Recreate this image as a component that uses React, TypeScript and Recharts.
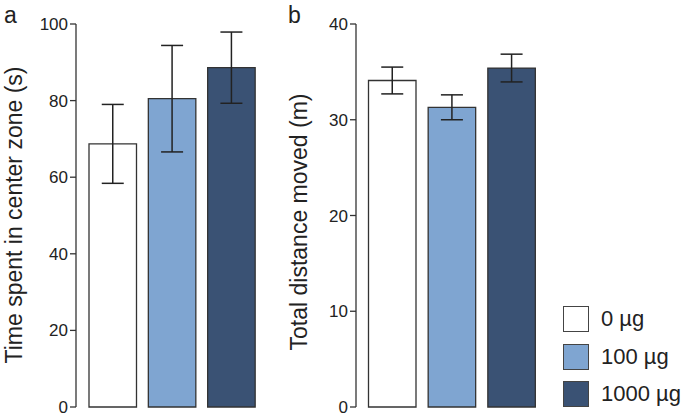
import { BarChart, Bar, Cell, XAxis, YAxis, ErrorBar } from 'recharts'

const groups = ['0 µg', '100 µg', '1000 µg']
const groupColors = ['#ffffff', '#7fa5d1', '#3a5274']

// panel a: time spent in center zone (s)
const timeMean = [68.7, 80.5, 88.6]
const timeErr = [10.3, 13.9, 9.3]
const timeTicks = [0, 20, 40, 60, 80, 100]

// panel b: total distance moved (m)
const distMean = [34.1, 31.3, 35.4]
const distErr = [1.4, 1.3, 1.45]
const distTicks = [0, 10, 20, 30, 40]

const font = '"Liberation Sans", Arial, Helvetica, sans-serif'
const ink = '#222'

type PanelProps = {
  means: number[]
  errs: number[]
  ticks: number[]
  title: string
  titleX: number
  titleY: number
  pad: { left: number; right: number }
  right: number
}

function Panel({ means, errs, ticks, title, titleX, titleY, pad, right }: PanelProps) {
  const data = groups.map((g, i) => ({ name: g, mean: means[i], err: errs[i] }))
  return (
    <BarChart
      width={280}
      height={417}
      data={data}
      margin={{ top: 24, right, bottom: 10, left: 0 }}
    >
      <XAxis dataKey="name" hide padding={pad} />
      <YAxis
        width={76}
        domain={[ticks[0], ticks[ticks.length - 1]]}
        ticks={ticks}
        interval={0}
        tickSize={6}
        tickMargin={2}
        axisLine={{ stroke: '#333', strokeWidth: 1.3 }}
        tickLine={{ stroke: '#333', strokeWidth: 1.3 }}
        tick={{ fill: ink, fontSize: 17, fontFamily: font }}
        label={{
          value: title,
          content: () => (
            <text
              x={titleX}
              y={titleY}
              transform={`rotate(-90 ${titleX} ${titleY})`}
              textAnchor="middle"
              fill={ink}
              fontSize={23}
              fontFamily={font}
            >
              {title}
            </text>
          ),
        }}
      />
      <Bar
        dataKey="mean"
        barSize={47.5}
        stroke="#333"
        strokeWidth={1.3}
        isAnimationActive={false}
      >
        {data.map((_, i) => (
          <Cell key={i} fill={groupColors[i]} />
        ))}
        <ErrorBar
          dataKey="err"
          direction="y"
          width={11}
          stroke={ink}
          strokeWidth={1.5}
          isAnimationActive={false}
        />
      </Bar>
    </BarChart>
  )
}

export default function App() {
  return (
    <div
      style={{
        position: 'relative',
        width: 685,
        height: 417,
        background: '#fff',
        fontFamily: font,
        overflow: 'hidden',
      }}
    >
      <style>{'body{margin:0}'}</style>
      <div style={{ position: 'absolute', left: 0, top: 0 }}>
        <Panel
          means={timeMean}
          errs={timeErr}
          ticks={timeTicks}
          title="Time spent in center zone (s)"
          titleX={22}
          titleY={215}
          pad={{ left: 7, right: 7.5 }}
          right={11.5}
        />
      </div>
      <div style={{ position: 'absolute', left: 280, top: 0 }}>
        <Panel
          means={distMean}
          errs={distErr}
          ticks={distTicks}
          title="Total distance moved (m)"
          titleX={27}
          titleY={222}
          pad={{ left: 6.5, right: 6.5 }}
          right={12}
        />
      </div>
      <svg
        width={685}
        height={417}
        style={{ position: 'absolute', left: 0, top: 0, pointerEvents: 'none' }}
      >
        <text x={4} y={22.5} fontSize={23} fontFamily={font} fill={ink}>a</text>
        <text x={288} y={22.5} fontSize={23} fontFamily={font} fill={ink}>b</text>
      </svg>
      <div style={{ position: 'absolute', left: 563, top: 306 }}>
        {groups.map((g, i) => (
          <div
            key={g}
            style={{ display: 'flex', alignItems: 'center', height: 26, marginBottom: 11.5 }}
          >
            <div
              style={{
                width: 26,
                height: 26,
                boxSizing: 'border-box',
                border: '1.6px solid #444',
                background: groupColors[i],
              }}
            />
            <span style={{ marginLeft: 12, fontSize: 22, color: ink, whiteSpace: 'nowrap' }}>
              {g}
            </span>
          </div>
        ))}
      </div>
    </div>
  )
}
